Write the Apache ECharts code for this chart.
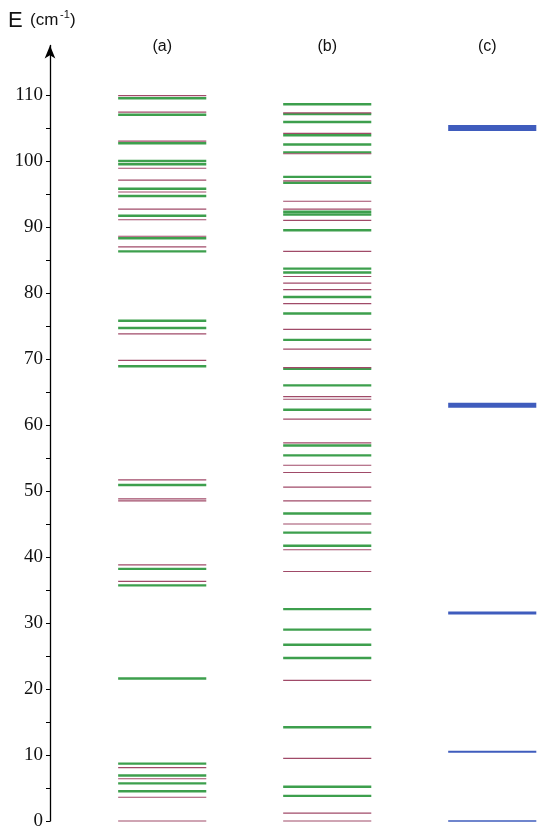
<!DOCTYPE html>
<html>
<head>
<meta charset="utf-8">
<script src="https://cdn.jsdelivr.net/npm/echarts@6/dist/echarts.min.js"></script>
<style>
  html, body { margin: 0; padding: 0; background: #fff; }
  #chart { width: 550px; height: 833px; }
</style>
</head>
<body>
<div id="chart"></div>
<script>
// column labels
const columns = ['(a)', '(b)', '(c)']

// axis ticks and labels
const tickValues = [0, 5, 10, 15, 20, 25, 30, 35, 40, 45, 50, 55, 60, 65, 70, 75, 80, 85, 90, 95, 100, 105, 110]
const labelValues = [0, 10, 20, 30, 40, 50, 60, 70, 80, 90, 100, 110]

// energy levels, cm-1
const aRed = [109.9, 107.4, 103.0, 98.9, 97.1, 95.3, 92.7, 91.1, 88.6, 87.0, 73.8, 69.8,
  51.7, 48.8, 48.5, 38.8, 36.3, 8.1, 6.4, 3.6, 0]
const aGreen = [109.5, 107.0, 102.7, 100.0, 99.5, 95.8, 94.7, 91.7, 88.3, 86.3, 75.8, 74.7,
  68.9, 50.9, 38.2, 35.7, 21.6, 8.7, 6.9, 5.7, 4.5]
const bRed = [107.3, 104.2, 101.1, 97.0, 93.9, 92.7, 91.0, 86.3, 82.5, 81.5, 80.5, 78.4,
  74.5, 71.5, 68.7, 64.3, 63.9, 60.9, 57.3, 53.9, 52.8, 50.6, 48.5, 45.0, 41.1, 37.8,
  21.3, 9.5, 1.2, 0]
const bGreen = [108.6, 107.1, 105.9, 103.9, 102.5, 101.3, 97.6, 96.7, 92.3, 91.9, 89.5,
  83.7, 83.1, 79.4, 76.9, 72.9, 68.5, 66.0, 62.3, 56.9, 55.4, 46.6, 43.7, 41.7, 32.1,
  29.0, 26.7, 24.7, 14.2, 5.2, 3.8]
const cLevels = [0, 10.5, 31.5, 63, 105]

const HALF = 0.267
const C_WIDTHS = [1.3, 2, 3, 5, 6]

const chart = echarts.init(document.getElementById('chart'))

const toData = (col, arr) => arr.map(v => [col, v])

const levelSeries = (name, data, color, width) => ({
  name: name,
  type: 'custom',
  silent: true,
  clip: false,
  data: data,
  encode: { x: 0, y: 1 },
  renderItem: (params, api) => {
    const x = api.value(0)
    const e = api.value(1)
    const p1 = api.coord([x - HALF, e])
    const p2 = api.coord([x + HALF, e])
    const w = typeof width === 'function' ? width(params.dataIndex) : width
    return {
      type: 'line',
      shape: { x1: p1[0], y1: p1[1], x2: p2[0], y2: p2[1] },
      style: { stroke: color, lineWidth: w }
    }
  }
})

const option = {
  animation: false,
  grid: { left: 50, right: 0, top: 45.5, bottom: 12 },
  xAxis: { type: 'value', min: -0.68, max: 2.35, show: false },
  yAxis: {
    type: 'value',
    min: 0,
    max: 117.5,
    splitLine: { show: false },
    axisLine: {
      show: true,
      onZero: false,
      symbol: ['none', 'arrow'],
      symbolSize: [8, 13],
      lineStyle: { color: '#000', width: 1.3 }
    },
    axisTick: {
      show: true,
      length: 4,
      customValues: tickValues,
      lineStyle: { color: '#000', width: 1 }
    },
    axisLabel: {
      margin: 7,
      customValues: labelValues,
      color: '#111',
      fontFamily: 'Liberation Serif',
      fontSize: 19
    }
  },
  series: [
    levelSeries('a-green', toData(0, aGreen), '#3d9f4d', 2.4),
    levelSeries('a-red', toData(0, aRed), '#a04a68', 1.2),
    levelSeries('b-green', toData(1, bGreen), '#3d9f4d', 2.4),
    levelSeries('b-red', toData(1, bRed), '#a04a68', 1.2),
    levelSeries('c', toData(2, cLevels), '#3f5cbd', i => C_WIDTHS[i])
  ]
}

chart.setOption(option)

// column titles and axis title
const titles = columns.map((t, i) => {
  const p = chart.convertToPixel({ gridIndex: 0 }, [i, 0])
  return {
    type: 'text',
    x: i === 2 ? p[0] - 5 : p[0],
    y: 47,
    style: { text: t, fill: '#111', font: '16px Arial', align: 'center', verticalAlign: 'middle' }
  }
})

chart.setOption({
  graphic: titles.concat([
    { type: 'text', x: 8, y: 10, style: { text: 'E', fill: '#111', font: '22px Arial' } },
    { type: 'text', x: 30, y: 12, style: { text: '(cm', fill: '#111', font: '17px Arial' } },
    { type: 'text', x: 60, y: 9, style: { text: '-1', fill: '#111', font: '11px Arial' } },
    { type: 'text', x: 70, y: 12, style: { text: ')', fill: '#111', font: '17px Arial' } }
  ])
})
</script>
</body>
</html>
